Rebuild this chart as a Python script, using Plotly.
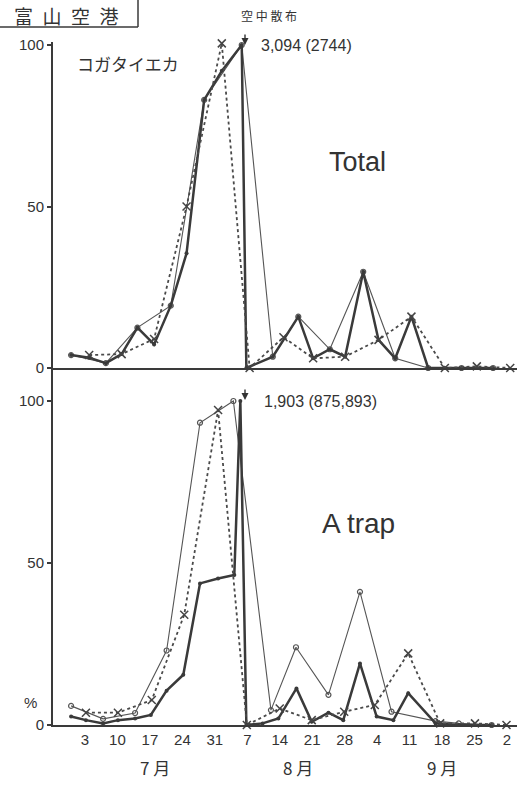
import plotly.graph_objects as go

W, H = 517, 789

# x values: day index where 1 = July 1 (Aug 7 = 38, Sep 4 = 66, Oct 2 = 94)
tick_days = [3, 10, 17, 24, 31, 38, 45, 52, 59, 66, 73, 80, 87, 94]
tick_labels = ["3", "10", "17", "24", "31", "7", "14", "21", "28", "4", "11", "18", "25", "2"]
month_labels = ["7 月", "8 月", "9 月"]
month_days = [18.1, 48.9, 80.0]

# ---- Total panel ----
thin_days_T = [0, 7.5, 14.3, 21.5, 28.7, 36.8, 43.5, 49, 55.8, 63, 69.9, 77, 84.2, 91]
thin_T = [4, 1.5, 12.5, 19.3, 83, 100, 3.5, 15.9, 5.8, 29.8, 3, 0, 0, 0]

thick_days_T = [0, 3.9, 7.5, 10.9, 14.3, 17.9, 21.5, 24.9, 28.7, 32.5, 36.8, 37.8,
                43.5, 49, 52.2, 55.8, 59.1, 63, 66.3, 69.9, 73.4, 77, 80.6, 84.2, 87.5, 91]
thick_T = [4, 3.2, 1.5, 4.3, 12.5, 7.3, 19.3, 35.5, 83, 92, 100, 0,
           3.5, 15.9, 3, 5.8, 3.5, 29.8, 8.7, 3, 15.9, 0, 0, 0, 0, 0]

dot_days_T = [3.9, 10.9, 17.9, 24.9, 32.5, 38.5, 45.8, 52.2, 59.1, 66.3, 73.4, 80.6, 87.5, 94.7]
dot_T = [4, 4.3, 9, 50, 100.5, 0, 9.5, 3, 3.5, 8.7, 15.9, 0, 0.5, 0]

# ---- A trap panel ----
thin_days_A = [0, 6.9, 13.8, 20.6, 27.8, 35, 43.1, 48.5, 55.5, 62.3, 69.1, 78.6, 83.6, 90.7]
thin_A = [5.9, 1.9, 3.7, 23, 93.3, 100, 4.6, 24, 9.3, 41.1, 4.1, 1.2, 0.5, 0]

thick_days_A = [0, 3.2, 6.9, 10.1, 13.8, 17.2, 20.6, 24.2, 27.8, 31.7, 35.2, 36.5, 37.8,
                41.3, 44.7, 48.6, 51.9, 55.5, 58.7, 62.3, 65.9, 69.5, 72.7, 78.6, 83.6, 90.7]
thick_A = [2.6, 1.5, 0.5, 1.5, 2, 3.1, 10.6, 15.5, 43.7, 45.2, 46.3, 100, 0,
           0.5, 2, 11.3, 1, 3.8, 1.5, 19, 2.6, 1.5, 9.8, 0.5, 0, 0]

dot_days_A = [3.2, 10.1, 17.4, 24.4, 31.7, 37.9, 45, 51.9, 58.9, 65.5, 72.7, 79.6, 87.1, 93.9]
dot_A = [3.8, 3.8, 7.7, 34, 97.2, 0, 5.1, 1.5, 4.1, 6.2, 22.1, 0.5, 0.5, 0]

INK = "#3a3a3a"
THIN = "#555555"


def px(x):
    return x / W


def py(y):
    return 1 - y / H


fig = go.Figure()


def add_panel(xa, ya, td, tv, kd, kv, dd, dv):
    fig.add_trace(go.Scatter(x=td, y=tv, xaxis=xa, yaxis=ya, mode="lines+markers",
                             line=dict(color=THIN, width=1.1),
                             marker=dict(symbol="circle-open", size=5, color=THIN, line=dict(width=1.2)),
                             cliponaxis=False, showlegend=False))
    fig.add_trace(go.Scatter(x=kd, y=kv, xaxis=xa, yaxis=ya, mode="lines+markers",
                             line=dict(color=INK, width=2.5),
                             marker=dict(symbol="circle", size=4, color=INK),
                             cliponaxis=False, showlegend=False))
    fig.add_trace(go.Scatter(x=dd, y=dv, xaxis=xa, yaxis=ya, mode="lines+markers",
                             line=dict(color="#4a4a4a", width=1.8, dash="dot"),
                             marker=dict(symbol="x-thin-open", size=8, color="#444444", line=dict(width=1.5)),
                             cliponaxis=False, showlegend=False))


add_panel("x", "y", thin_days_T, thin_T, thick_days_T, thick_T, dot_days_T, dot_T)
add_panel("x2", "y2", thin_days_A, thin_A, thick_days_A, thick_A, dot_days_A, dot_A)

xdom = [px(53), 1.0]
xr = [3 + (53 - 85) / 4.637, 3 + (517 - 85) / 4.637]
tickfont = dict(family="Liberation Sans, DejaVu Sans", size=15, color="#333333")

axis_common = dict(showgrid=False, zeroline=False, showline=True, linecolor=INK, linewidth=2)

fig.update_layout(
    width=W, height=H,
    margin=dict(l=0, r=0, t=0, b=0),
    paper_bgcolor="white", plot_bgcolor="white",
    xaxis=dict(domain=xdom, range=xr, anchor="y", showticklabels=False, ticks="", **axis_common),
    yaxis=dict(domain=[py(368), py(42)], range=[0, (368 - 42) / 3.23], anchor="x",
               tickvals=[0, 50, 100], ticks="outside", ticklen=4, tickwidth=1.5, tickcolor=INK,
               tickfont=tickfont, automargin=False, **axis_common),
    xaxis2=dict(domain=xdom, range=xr, anchor="y2", tickvals=tick_days, ticktext=tick_labels,
                ticks="", tickfont=tickfont, automargin=False, **axis_common),
    yaxis2=dict(domain=[py(725), py(368)], range=[0, (725 - 368) / 3.24], anchor="x2",
                tickvals=[0, 50, 100], ticks="outside", ticklen=4, tickwidth=1.5, tickcolor=INK,
                tickfont=tickfont, automargin=False, **axis_common),
    font=dict(family="Liberation Sans, DejaVu Sans", color="#333333"),
)

ann = []


def text(x, y, s, size, family="Liberation Sans, DejaVu Sans", xanchor="center"):
    ann.append(dict(x=px(x), y=py(y), xref="paper", yref="paper", text=s, showarrow=False,
                    xanchor=xanchor, yanchor="middle", font=dict(size=size, family=family, color="#333333")))


def arrow(x, y_tip, length=12):
    ann.append(dict(x=px(x), y=py(y_tip), xref="paper", yref="paper", text="", showarrow=True,
                    ax=0, ay=-length, arrowhead=2, arrowsize=1, arrowwidth=1.4, arrowcolor="#333333"))


JP = "Noto Sans CJK JP"
text(66, 15, "富\u2002山\u2002空\u2002港", 19, JP)
text(269, 15, "空 中 散 布", 12, JP)
text(128, 63, "コガタイエカ", 17, JP)
arrow(245, 45)
text(259, 46, "3,094 (2744)", 16, xanchor="left")
text(357, 162, "Total", 27)
arrow(245, 400)
text(262, 401, "1,903 (875,893)", 16, xanchor="left")
text(358, 523, "A trap", 28)
text(30, 702, "%", 15)

for lab, d in zip(month_labels, month_days):
    ann.append(dict(x=d, y=py(767), xref="x2", yref="paper", text=lab, showarrow=False,
                    xanchor="center", yanchor="middle",
                    font=dict(size=17, family=JP, color="#333333")))

fig.update_layout(annotations=ann)

fig.add_shape(type="line", xref="paper", yref="paper", x0=px(138), x1=px(138), y0=py(0), y1=py(27),
              line=dict(color=INK, width=1.5))
fig.add_shape(type="line", xref="paper", yref="paper", x0=px(0), x1=px(138), y0=py(27), y1=py(27),
              line=dict(color=INK, width=1.5))

fig.write_html("out.html")
